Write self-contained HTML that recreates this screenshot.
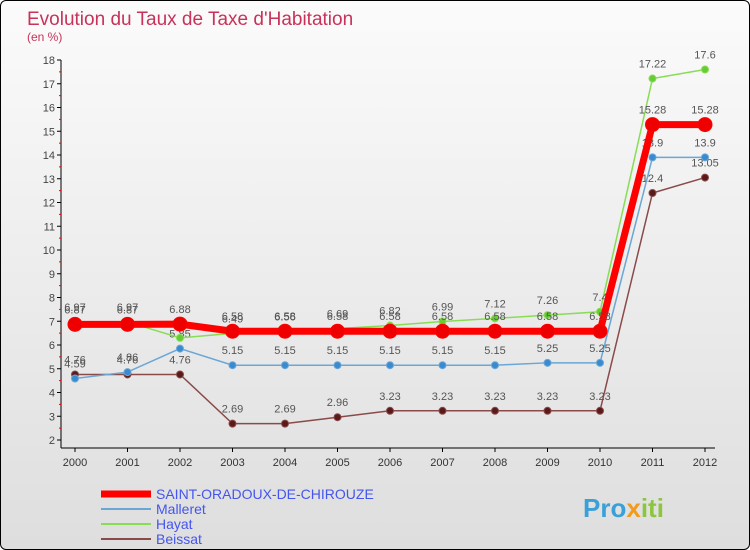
<!DOCTYPE html>
<html><head><meta charset="utf-8"><style>
body{margin:0}
#c{width:748px;height:548px;border:1px solid #000;border-radius:6px;overflow:hidden;background:linear-gradient(#fbfbfb,#dedede);position:relative;font-family:"Liberation Sans",sans-serif}
</style></head><body>
<div id="c">
<svg id="s" width="748" height="548"></svg>
</div>
<script>
const years=[2000,2001,2002,2003,2004,2005,2006,2007,2008,2009,2010,2011,2012];
const saint=[6.87,6.87,6.88,6.58,6.58,6.58,6.58,6.58,6.58,6.58,6.58,15.28,15.28];
const malleret=[4.59,4.86,5.85,5.15,5.15,5.15,5.15,5.15,5.15,5.25,5.25,13.9,13.9];
const hayat=[6.97,6.97,6.3,6.49,6.56,6.69,6.82,6.99,7.12,7.26,7.4,17.22,17.6];
const beissat=[4.76,4.76,4.76,2.69,2.69,2.96,3.23,3.23,3.23,3.23,3.23,12.4,13.05];
const yTicks=[2,3,4,5,6,7,8,9,10,11,12,13,14,15,16,17,18];
const NS="http://www.w3.org/2000/svg",s=document.getElementById('s');
const X=i=>74+i*52.5, Y=v=>439-(v-2)*23.75;
function el(t,a,p){const e=document.createElementNS(NS,t);for(const k in a)e.setAttribute(k,a[k]);(p||s).appendChild(e);return e;}
let t=el('text',{x:26,y:24,'font-size':19,fill:'#c8325a'});t.textContent="Evolution du Taux de Taxe d'Habitation";

t=el('text',{x:26,y:40,'font-size':12,fill:'#c8325a'});t.textContent="(en %)";

let ax=el('line',{x1:60,y1:Y(18),x2:60,y2:Y(2)+8,stroke:'#000'});

ax=el('line',{x1:60,y1:Y(2)+8,x2:X(12)+10,y2:Y(2)+8,stroke:'#000'});

yTicks.forEach(v=>{el('line',{x1:56,x2:60,y1:Y(v),y2:Y(v),stroke:'#000'});
 if(v<18)el('line',{x1:58,x2:60,y1:Y(v+.5),y2:Y(v+.5),stroke:'#e00'});
 const tt=el('text',{x:54,y:Y(v)+4,'font-size':11,fill:'#444','text-anchor':'end'});tt.textContent=v;
 });
years.forEach((y,i)=>{el('line',{x1:X(i),x2:X(i),y1:Y(2)+8,y2:Y(2)+12,stroke:'#000'});
 const tt=el('text',{x:X(i),y:Y(2)+26,'font-size':11,fill:'#333','text-anchor':'middle'});tt.textContent=y;
 });
function series(d,col,w,r,dot,name){
 const g=el('g',{});
 el('polyline',{points:d.map((v,i)=>X(i)+','+Y(v)).join(' '),fill:'none',stroke:col,'stroke-width':w},g);
 d.forEach((v,i)=>{const c=el('circle',{cx:X(i),cy:Y(v),r:r,fill:dot,stroke:col,'stroke-width':1},g);
  
  const tt=el('text',{x:X(i),y:Y(v)-11,'font-size':11,fill:'#555','text-anchor':'middle'},g);tt.textContent=v;});
}
series(beissat,'#8a4a4a',1.5,3.5,'#5a1a1a','beissat-series');
series(malleret,'#6aa6d6',1.5,3.5,'#3a8ad0','malleret-series');
series(hayat,'#88dd55',1.5,3.5,'#66cc33','hayat-series');
series(saint,'#ff0000',7,7,'#ee0000','saint-oradoux-series');
const leg=[['SAINT-ORADOUX-DE-CHIROUZE','#ff0000',7],['Malleret','#6aa6d6',2],['Hayat','#88dd55',2],['Beissat','#8a4a4a',2]];
leg.forEach((l,i)=>{const g=el('g',{});
 const yy=493+i*15;el('line',{x1:100,x2:150,y1:yy,y2:yy,stroke:l[1],'stroke-width':l[2]},g);
 const tt=el('text',{x:155,y:yy+5,'font-size':14,fill:'#4455ee'},g);tt.textContent=l[0];});
t=el('text',{x:582,y:516,'font-size':26,'font-weight':'bold',fill:'#f39a1a'});
t.innerHTML='<tspan fill="#3aa0d8">Pro</tspan><tspan fill="#f39a1a">x</tspan><tspan fill="#8cc63f">iti</tspan>';

</script>
</body></html>
